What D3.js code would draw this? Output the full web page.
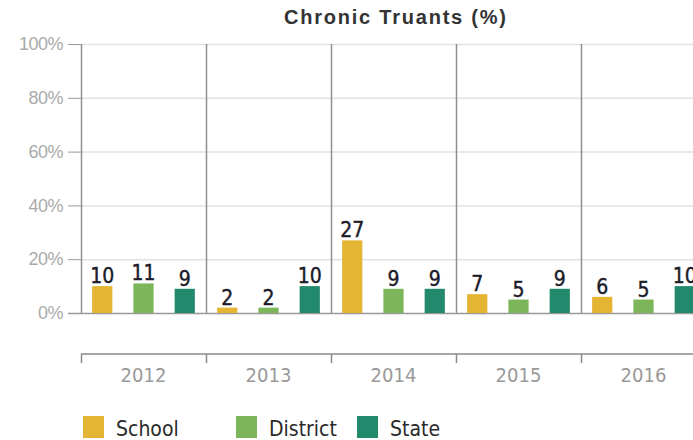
<!DOCTYPE html>
<html>
<head>
<meta charset="utf-8">
<script src="https://cdn.jsdelivr.net/npm/d3@7"></script>
<style>
  body { margin: 0; background: #fff; }
  svg { display: block; }
</style>
</head>
<body>
<div id="chart"></div>
<script>
const width = 693;
const height = 440;

// data
const years = ["2012", "2013", "2014", "2015", "2016"];
const series = ["School", "District", "State"];
const school = [10, 2, 27, 7, 6];
const district = [11, 2, 9, 5, 5];
const state = [9, 10, 9, 9, 10];
const yTicks = [0, 20, 40, 60, 80, 100];
const colors = ["#e3b532", "#7db65a", "#23896d"];

const values = [school, district, state];

const plotLeft = 81;
const plotTop = 44;
const plotBottom = 313;
const bandW = 125;

const condensed = "DejaVu Sans Condensed, DejaVu Sans, sans-serif";

const svg = d3.select("#chart").append("svg")
    .attr("width", width)
    .attr("height", height);

const x = d3.scaleBand()
    .domain(years)
    .range([plotLeft, plotLeft + bandW * years.length]);

const xInner = d3.scaleBand()
    .domain(series)
    .range([0, bandW])
    .paddingInner(0.51)
    .paddingOuter(0.27);

const y = d3.scaleLinear()
    .domain([0, 100])
    .range([plotBottom, plotTop]);

// title
svg.append("text")
    .attr("x", 395)
    .attr("y", 24)
    .attr("text-anchor", "middle")
    .attr("textLength", 222)
    .attr("lengthAdjust", "spacing")
    .style("font-family", "Liberation Sans, Arial, sans-serif")
    .style("font-weight", "bold")
    .style("font-size", "20px")
    .style("fill", "#333")
    .text("Chronic Truants (%)");

// y axis with horizontal grid lines
const yAxis = svg.append("g")
    .attr("transform", `translate(${plotLeft},0)`)
    .call(d3.axisLeft(y).tickValues(yTicks).tickFormat(d => d + "%").tickSize(13).tickPadding(5));

yAxis.select(".domain").remove();
yAxis.selectAll(".tick line").attr("stroke", "#999");
yAxis.selectAll(".tick text")
    .style("font-family", "Liberation Sans, Arial, sans-serif")
    .style("font-size", "18px")
    .style("letter-spacing", "-0.5px")
    .style("fill", "#aaa");

svg.append("g")
    .selectAll("line")
    .data(yTicks.filter(d => d > 0))
    .join("line")
    .attr("x1", plotLeft)
    .attr("x2", width)
    .attr("y1", d => y(d) + 0.5)
    .attr("y2", d => y(d) + 0.5)
    .attr("stroke", "#e2e2e2")
    .attr("stroke-width", 1.5);

// vertical separators
svg.append("g")
    .selectAll("line")
    .data(years)
    .join("line")
    .attr("x1", d => x(d) + 0.5)
    .attr("x2", d => x(d) + 0.5)
    .attr("y1", plotTop)
    .attr("y2", plotBottom)
    .attr("stroke", "#8f8f8f")
    .attr("stroke-width", 1.5);

// baseline
svg.append("line")
    .attr("x1", plotLeft - 13)
    .attr("x2", width)
    .attr("y1", y(0) + 0.5)
    .attr("y2", y(0) + 0.5)
    .attr("stroke", "#999")
    .attr("stroke-width", 1.5);

// bars
const groups = svg.append("g")
    .selectAll("g")
    .data(years)
    .join("g")
    .attr("transform", d => `translate(${x(d)},0)`);

groups.each(function (year, i) {
    const g = d3.select(this);
    const rows = series.map((s, j) => ({ s: s, v: values[j][i], c: colors[j] }));

    g.selectAll("rect")
        .data(rows)
        .join("rect")
        .attr("x", d => xInner(d.s))
        .attr("width", xInner.bandwidth())
        .attr("y", d => y(d.v))
        .attr("height", d => y(0) - y(d.v))
        .attr("fill", d => d.c);

    // value labels sit just above each bar
    g.selectAll("text")
        .data(rows)
        .join("text")
        .attr("x", d => xInner(d.s) + xInner.bandwidth() / 2)
        .attr("y", d => y(d.v) - 3)
        .attr("text-anchor", "middle")
        .style("font-family", condensed)
        .style("font-stretch", "condensed")
        .style("font-size", "21px")
        .style("fill", "#1c1c2a")
        .style("stroke", "#1c1c2a")
        .style("stroke-width", 0.4)
        .text(d => d.v);
});

// bottom category axis
const xAxis = svg.append("g")
    .attr("transform", "translate(0,354)")
    .call(d3.axisBottom(x).tickSize(0).tickPadding(14));

xAxis.select(".domain")
    .attr("d", `M${plotLeft},0H${width}`)
    .attr("stroke", "#8a8a8a")
    .attr("stroke-width", 1.5);

xAxis.selectAll(".tick text")
    .style("font-family", condensed)
    .style("font-stretch", "condensed")
    .style("font-size", "20px")
    .style("fill", "#999");

svg.append("g")
    .selectAll("line")
    .data(years)
    .join("line")
    .attr("x1", d => x(d) + 0.5)
    .attr("x2", d => x(d) + 0.5)
    .attr("y1", 354)
    .attr("y2", 363)
    .attr("stroke", "#8a8a8a")
    .attr("stroke-width", 1.5);

// legend
const legendX = [83, 236, 357];
const legend = svg.append("g")
    .selectAll("g")
    .data(series)
    .join("g")
    .attr("transform", (d, i) => `translate(${legendX[i]},416)`);

legend.append("rect")
    .attr("width", 21)
    .attr("height", 22)
    .attr("fill", (d, i) => colors[i]);

legend.append("text")
    .attr("x", 33)
    .attr("y", 20)
    .style("font-family", condensed)
    .style("font-stretch", "condensed")
    .style("font-size", "21px")
    .style("fill", "#2a2a2a")
    .text(d => d);
</script>
</body>
</html>
